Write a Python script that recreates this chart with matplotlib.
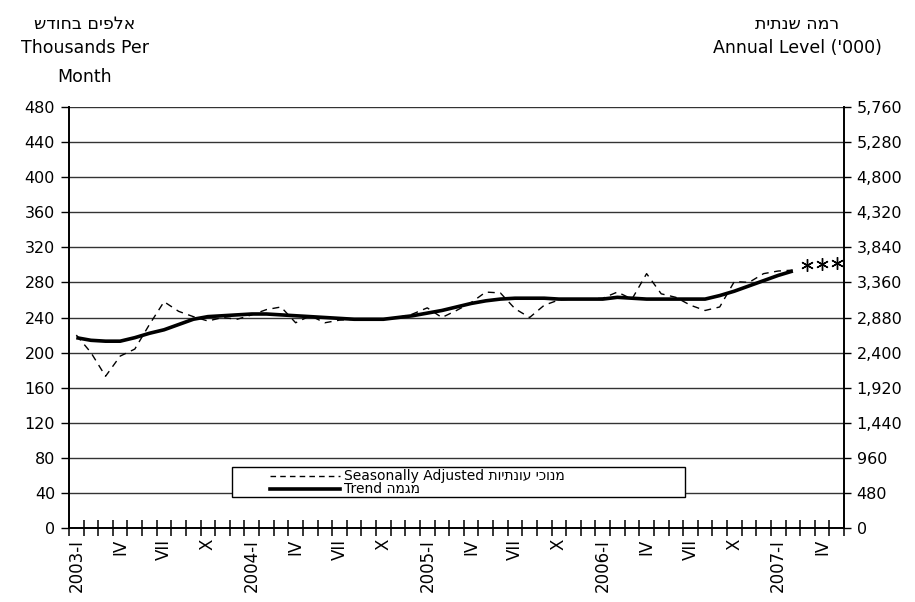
import numpy as np
import matplotlib
matplotlib.use("Agg")
import matplotlib.pyplot as plt
from matplotlib.patches import Rectangle
from matplotlib.lines import Line2D
from matplotlib.ticker import FuncFormatter

plt.rcParams['font.family'] = ['DejaVu Sans']

# monthly categories, Jan 2003 .. May 2007 (53 slots on the axis)
n_cats = 53

# Trend, thousands per month (Jan 2003 .. Feb 2007)
trend = [217, 214, 213, 213, 217, 222, 226, 232, 238, 241,
         242, 243, 244, 244, 243, 242, 241, 240, 239, 238,
         238, 238, 240, 242, 245, 248, 252, 256, 259, 261,
         262, 262, 262, 261, 261, 261, 261, 263, 262, 261,
         261, 261, 261, 261, 265, 270, 276, 282, 288, 293]

# Seasonally adjusted, thousands per month
seas_adj = [220, 200, 173, 196, 204, 232, 258, 247, 241, 236,
            240, 238, 243, 249, 252, 234, 242, 234, 237, 238,
            238, 238, 240, 244, 251, 240, 248, 257, 269, 268,
            250, 240, 254, 260, 261, 261, 262, 269, 261, 290,
            267, 263, 254, 248, 252, 281, 280, 290, 293, 294]

# the three asterisks after the last month
star_pos = [50, 51, 52]
star_vals = [300, 301, 302]

tick_pos = list(range(0, 53, 3))
tick_labels = ['2003-I', 'IV', 'VII', 'X',
               '2004-I', 'IV', 'VII', 'X',
               '2005-I', 'IV', 'VII', 'X',
               '2006-I', 'IV', 'VII', 'X',
               '2007-I', 'IV']

left_ticks = list(range(0, 481, 40))
right_ticks = list(range(0, 5761, 480))

heb_left = 'אלפים בחודש'
heb_right = 'רמה שנתית'
heb_sa = 'מנוכי עונתיות'
heb_trend = 'מגמה'


def vis(s):
    # matplotlib has no bidi, so lay hebrew out right to left by hand
    return s[::-1]


W, H = 915, 602
fig = plt.figure(figsize=(W / 100, H / 100), dpi=100)
L, R, T, B = 69, 844, 107, 528
ax = fig.add_axes([L / W, 1 - B / H, (R - L) / W, (B - T) / H])

x_tr = np.arange(len(trend))
x_sa = np.arange(len(seas_adj))

ax.plot(x_sa, seas_adj, color='black', lw=1.0, dashes=(5, 4), zorder=3)
ax.plot(x_tr, trend, color='black', lw=2.6, solid_capstyle='butt', zorder=4)
ax.plot(star_pos, star_vals, ls='none', marker=(6, 2, 0), ms=9,
        mew=1.0, color='black', zorder=4)

ax.set_xlim(-0.5, n_cats - 0.5)
ax.set_ylim(0, 480)
ax.set_yticks(left_ticks)
ax.grid(axis='y', color='#333333', lw=1.0)
ax.set_axisbelow(True)

# category boundaries get the cross ticks, labels sit in the middle
ax.set_xticks(np.arange(-0.5, n_cats, 1.0))
ax.set_xticklabels([])
ax.tick_params(axis='x', which='major', direction='inout', length=11,
               width=1.1, color='black')
ax.set_xticks(tick_pos, minor=True)
ax.set_xticklabels(tick_labels, minor=True, rotation=90, fontsize=12)
ax.tick_params(axis='x', which='minor', length=0, pad=8)
for lbl in ax.get_xticklabels(minor=True):
    lbl.set_va('top')
    lbl.set_ha('center')

ax.tick_params(axis='y', direction='out', length=6, width=1, labelsize=11.5,
               pad=4)
for sp in ['left', 'bottom']:
    ax.spines[sp].set_linewidth(1.4)
ax.spines['top'].set_visible(False)
ax.spines['right'].set_visible(False)

ax2 = ax.twinx()
ax2.set_ylim(0, 5760)
ax2.set_yticks(right_ticks)
ax2.yaxis.set_major_formatter(FuncFormatter(lambda v, p: '{:,}'.format(int(v))))
ax2.tick_params(axis='y', direction='out', length=5, width=1, labelsize=11.5,
                pad=4)
ax2.spines['right'].set_linewidth(1.4)
ax2.spines['top'].set_visible(False)
ax2.spines['left'].set_visible(False)
ax2.spines['bottom'].set_visible(False)

# legend box drawn by hand (Excel style, wide and tight)
bx0 = (232 - L) / (R - L)
bx1 = (685 - L) / (R - L)
by0 = (B - 497) / (B - T)
by1 = (B - 467) / (B - T)
ax.add_patch(Rectangle((bx0, by0), bx1 - bx0, by1 - by0, transform=ax.transAxes,
                       facecolor='white', edgecolor='black', lw=1.0, zorder=6))
hx0 = (270 - L) / (R - L)
hx1 = (340 - L) / (R - L)
tx = (344 - L) / (R - L)
y1 = (B - 476) / (B - T)
y2 = (B - 489) / (B - T)
ax.add_line(Line2D([hx0, hx1], [y1, y1], transform=ax.transAxes,
                   color='black', lw=1.0, dashes=(4, 3), zorder=7))
ax.add_line(Line2D([hx0, hx1], [y2, y2], transform=ax.transAxes,
                   color='black', lw=2.6, zorder=7))
ax.text(tx, y1, 'Seasonally Adjusted ' + vis(heb_sa), transform=ax.transAxes,
        fontsize=10, va='center', ha='left', zorder=7)
ax.text(tx, y2, 'Trend ' + vis(heb_trend), transform=ax.transAxes,
        fontsize=10, va='center', ha='left', zorder=7)

# axis titles at the corners
fig.text(85 / W, 1 - 24 / H, vis(heb_left), ha='center', va='center', fontsize=12.5)
fig.text(85 / W, 1 - 48 / H, 'Thousands Per', ha='center', va='center', fontsize=12.5)
fig.text(85 / W, 1 - 77 / H, 'Month', ha='center', va='center', fontsize=12.5)
fig.text(797 / W, 1 - 24 / H, vis(heb_right), ha='center', va='center', fontsize=12.5)
fig.text(797 / W, 1 - 48 / H, "Annual Level ('000)", ha='center', va='center',
         fontsize=12.5)

fig.savefig('out.png', dpi=100)
